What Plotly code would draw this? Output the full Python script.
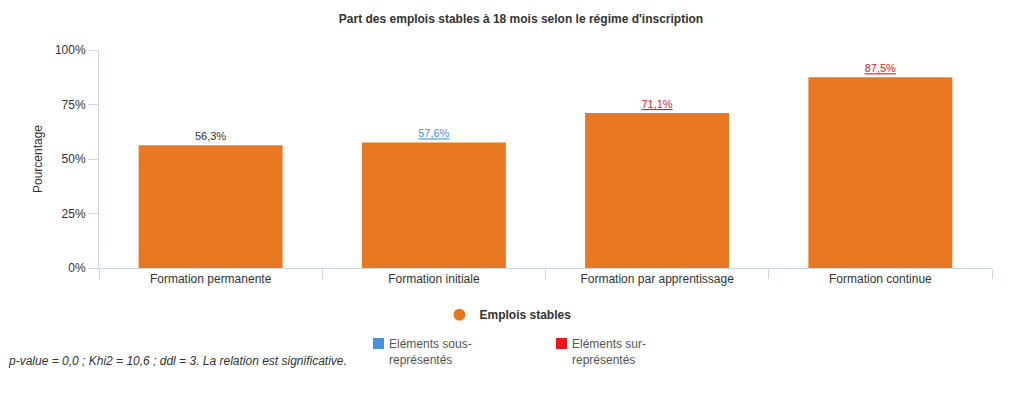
import plotly.graph_objects as go

categories = ["Formation permanente", "Formation initiale", "Formation par apprentissage", "Formation continue"]
values = [56.3, 57.6, 71.1, 87.5]
representation = ["neutre", "sous", "sur", "sur"]  # statistical over/under-representation
y_ticks = [0, 25, 50, 75, 100]

series_name = "Emplois stables"
title = "Part des emplois stables à 18 mois selon le régime d'inscription"
y_title = "Pourcentage"
footnote = "p-value = 0,0 ; Khi2 = 10,6 ; ddl = 3. La relation est significative."

BAR = "#E87722"
LABEL_COLORS = {"neutre": "#333333", "sous": "#4A90E2", "sur": "#F0141E"}
AXIS = "#CCD6EB"
FONT = "Liberation Sans, Arial, sans-serif"

def fmt(v, rep):
    s = f"{v:.1f}".replace(".", ",") + "%"
    return s if rep == "neutre" else f"<u>{s}</u>"

fig = go.Figure()
fig.add_trace(go.Bar(
    x=categories, y=values,
    marker=dict(color=BAR, line=dict(width=0)),
    width=0.645,
    text=[fmt(v, r) for v, r in zip(values, representation)],
    textposition="outside",
    textfont=dict(size=11, color=[LABEL_COLORS[r] for r in representation], family=FONT),
    cliponaxis=False,
    showlegend=False,
    hoverinfo="skip",
))
fig.add_trace(go.Scatter(
    x=[None], y=[None], mode="markers", name="<b>" + series_name + "</b>",
    marker=dict(symbol="circle", size=12, color=BAR),
    showlegend=True,
))

fig.update_layout(
    width=1026, height=395,
    margin=dict(l=91, r=42, t=42, b=135),
    paper_bgcolor="white", plot_bgcolor="white",
    font=dict(family=FONT, size=12, color="#333333"),
    title=dict(text="<b>" + title + "</b>", x=0.5, xanchor="center", y=1 - 11 / 395, yanchor="middle",
               font=dict(size=12, color="#333333")),
    showlegend=True,
    legend=dict(orientation="h", x=0.458, xanchor="center", y=-0.214, yanchor="middle",
                font=dict(size=12, color="#333333", family=FONT), itemsizing="constant",
                bgcolor="rgba(0,0,0,0)"),
    bargap=0.355,
)
fig.update_xaxes(
    type="category", showline=True, linecolor=AXIS, linewidth=1,
    ticks="outside", tickson="boundaries", ticklen=10, tickcolor=AXIS,
    tickfont=dict(size=12, color="#333333"), showgrid=False,
)
fig.update_yaxes(
    range=[0, 100], tickvals=y_ticks, ticktext=[f"{t}%" for t in y_ticks],
    showline=True, linecolor=AXIS, linewidth=1,
    ticks="outside", ticklen=10, tickcolor=AXIS, showgrid=False, zeroline=False,
    tickfont=dict(size=12, color="#333333"),
    title=dict(text=y_title, font=dict(size=12, color="#333333"), standoff=9),
)
# Legend for representation colours
for xpos, key, txt in [(378, "sous", "Eléments sous-<br>représentés"), (561, "sur", "Eléments sur-<br>représentés")]:
    fig.add_shape(type="rect", xref="paper", yref="paper",
                  x0=(xpos - 5 - 99) / 893, x1=(xpos + 6 - 99) / 893,
                  y0=(268 - 349) / 218, y1=(268 - 338) / 218,
                  fillcolor=LABEL_COLORS[key], line=dict(width=0))
    fig.add_annotation(xref="paper", yref="paper", x=(xpos + 9 - 99) / 893, y=(268 - 352) / 218,
                       text=txt, showarrow=False, xanchor="left", yanchor="middle", align="left",
                       font=dict(size=12, color="#555555"))
fig.add_annotation(xref="paper", yref="paper", x=(6 - 99) / 893, y=(268 - 361) / 218,
                   text="<i>" + footnote + "</i>", showarrow=False, xanchor="left", yanchor="middle",
                   font=dict(size=12, color="#333333"))

fig.write_html("out.html")
